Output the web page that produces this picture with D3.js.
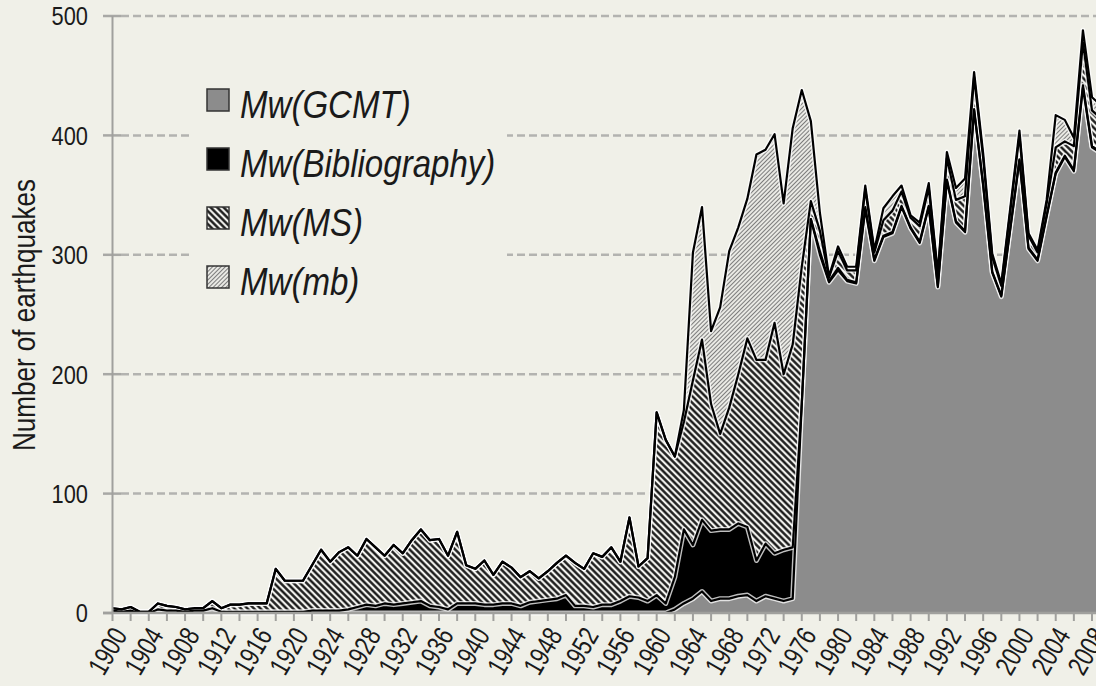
<!DOCTYPE html>
<html>
<head>
<meta charset="utf-8">
<script src="https://cdn.jsdelivr.net/npm/d3@7"></script>
<style>
body { margin: 0; background: #f0f0e8; }
svg { display: block; }
text { font-family: "Liberation Sans", Arial, sans-serif; fill: #1a1a1a; }
</style>
</head>
<body>
<script>

// yearly counts, 1900-2009, one value per year
var years = d3.range(1900, 2010);

var gcmt = [
	0,0,0,0,0,0,0,0,0,0,
	0,0,0,0,0,0,0,0,0,0,
	0,0,0,0,0,0,0,0,0,0,
	0,0,0,0,0,0,0,0,0,0,
	0,0,0,0,0,0,0,0,0,0,
	0,0,0,0,0,0,0,0,0,0,
	0,0,3,8,12,18,10,12,12,14,
	15,10,14,12,10,12,175,330,300,277,
	287,278,276,338,295,315,318,340,322,310,
	340,273,362,327,319,421,358,285,265,322,
	379,305,295,332,368,382,370,440,390,385];

var bib = [
	2,1,2,0,0,3,2,2,1,2,
	2,4,1,1,1,1,1,1,1,1,
	1,1,2,2,2,2,3,5,7,6,
	8,7,8,9,10,6,5,3,8,8,
	8,7,7,8,8,6,9,10,11,12,
	15,6,6,5,7,7,10,14,13,10,
	15,8,27,62,45,60,59,58,58,61,
	57,34,44,38,43,43,0,0,3,1,
	2,1,1,2,1,1,1,1,1,1,
	1,1,1,1,1,1,1,1,1,1,
	1,1,1,1,1,1,1,2,1,1];

var ms = [
	2,2,3,1,1,5,4,3,2,2,
	2,6,3,6,6,7,7,7,36,26,
	26,26,38,51,41,49,52,43,55,49,
	40,50,42,52,60,55,57,45,60,32,
	29,37,25,35,30,24,26,19,24,30,
	33,36,31,45,40,48,33,66,26,36,
	153,137,101,90,138,151,106,80,102,125,
	158,168,154,193,147,170,115,15,17,3,
	14,8,10,15,6,13,18,12,8,13,
	15,9,18,18,29,27,22,12,8,14,
	20,10,6,10,21,12,20,36,30,28];

var mb = [
	0,0,0,0,0,0,0,0,0,0,
	0,0,0,0,0,0,0,0,0,0,
	0,0,0,0,0,0,0,0,0,0,
	0,0,0,0,0,0,0,0,0,0,
	0,0,0,0,0,0,0,0,0,0,
	0,0,0,0,0,0,0,0,0,0,
	0,0,0,10,107,111,61,106,131,123,
	117,172,176,158,143,181,148,67,15,1,
	4,3,3,3,2,10,12,5,2,3,
	4,2,5,10,15,4,4,3,2,3,
	4,2,2,3,27,18,7,10,11,11];

var keys = ["gcmt", "bib", "ms", "mb"];
var legendLabels = ["Mw(GCMT)", "Mw(Bibliography)", "Mw(MS)", "Mw(mb)"];
var yTicks = [0, 100, 200, 300, 400, 500];
var xLabelYears = d3.range(1900, 2009, 4);
var xTickYears = d3.range(1900, 2010, 2);

var width = 1096,
	height = 686,
	bg = "#f0f0e8",
	narrow = 0.84; // no condensed font installed, squeeze the glyphs instead

var rows = years.map(function(yr, i){
	return {year: yr, gcmt: gcmt[i], bib: bib[i], ms: ms[i], mb: mb[i]};
});

var x = d3.scaleLinear().domain([1900, 2008]).range([112.5, 1092]),
	y = d3.scaleLinear().domain([0, 500]).range([613, 16]);

var svg = d3.select("body").append("svg")
		.attr("width", width)
		.attr("height", height);

svg.append("rect")
		.attr("width", width)
		.attr("height", height)
		.attr("fill", bg);

var defs = svg.append("defs");

// thick "\\\" hatch for MS
var pMS = defs.append("pattern")
		.attr("id", "hatchMS")
		.attr("patternUnits", "userSpaceOnUse")
		.attr("width", 4.6)
		.attr("height", 4.6)
		.attr("patternTransform", "rotate(-45)");
pMS.append("rect").attr("width", 4.6).attr("height", 4.6).attr("fill", "#f2f2ee");
pMS.append("line")
		.attr("x1", 2.3).attr("y1", 0).attr("x2", 2.3).attr("y2", 4.6)
		.attr("stroke", "#111").attr("stroke-width", 2.3);

// fine "///" hatch for mb
var pMB = defs.append("pattern")
		.attr("id", "hatchMB")
		.attr("patternUnits", "userSpaceOnUse")
		.attr("width", 3)
		.attr("height", 3)
		.attr("patternTransform", "rotate(45)");
pMB.append("rect").attr("width", 3).attr("height", 3).attr("fill", "#e9e9e4");
pMB.append("line")
		.attr("x1", 1.5).attr("y1", 0).attr("x2", 1.5).attr("y2", 3)
		.attr("stroke", "#7c7c7c").attr("stroke-width", 1);

var fills = {gcmt: "#8c8c8c", bib: "#000", ms: "url(#hatchMS)", mb: "url(#hatchMB)"};

// grid
svg.selectAll(".grid")
		.data(yTicks.slice(1))
	.enter().append("line")
		.attr("x1", 121)
		.attr("x2", width)
		.attr("y1", function(d){ return y(d); })
		.attr("y2", function(d){ return y(d); })
		.attr("stroke", "#b3b3b0")
		.attr("stroke-width", 2.5)
		.attr("stroke-dasharray", "8,4");

svg.selectAll(".ytick")
		.data(yTicks)
	.enter().append("line")
		.attr("x1", 103)
		.attr("x2", 121)
		.attr("y1", function(d){ return y(d); })
		.attr("y2", function(d){ return y(d); })
		.attr("stroke", "#a8a8a5")
		.attr("stroke-width", 2.5);

// legend box hides the grid behind it
svg.append("rect")
		.attr("x", 190)
		.attr("y", 70)
		.attr("width", 317)
		.attr("height", 240)
		.attr("fill", bg);

var stacked = d3.stack().keys(keys)(rows);

var area = d3.area()
		.x(function(d){ return x(d.data.year); })
		.y0(function(d){ return y(d[0]); })
		.y1(function(d){ return y(d[1]); });

var topLine = d3.line()
		.x(function(d){ return x(d.data.year); })
		.y(function(d){ return y(d[1]); });

svg.selectAll(".layer")
		.data(stacked)
	.enter().append("path")
		.attr("d", area)
		.attr("fill", function(d){ return fills[d.key]; });

svg.selectAll(".halo")
		.data(stacked)
	.enter().append("path")
		.attr("d", topLine)
		.attr("fill", "none")
		.attr("stroke", "#fff")
		.attr("stroke-opacity", 0.75)
		.attr("stroke-width", 5)
		.attr("stroke-linejoin", "round");

svg.selectAll(".edge")
		.data(stacked)
	.enter().append("path")
		.attr("d", topLine)
		.attr("fill", "none")
		.attr("stroke", "#000")
		.attr("stroke-width", 2.2)
		.attr("stroke-linejoin", "round");

// axes
svg.append("line")
		.attr("x1", x(1900)).attr("x2", x(1900))
		.attr("y1", y(500)).attr("y2", y(0))
		.attr("stroke", "#a0a09d").attr("stroke-width", 2);

svg.append("line")
		.attr("x1", 103).attr("x2", width)
		.attr("y1", y(0)).attr("y2", y(0))
		.attr("stroke", "#a0a09d").attr("stroke-width", 2.5);

svg.selectAll(".xtick")
		.data(xTickYears)
	.enter().append("line")
		.attr("x1", function(d){ return x(d); })
		.attr("x2", function(d){ return x(d); })
		.attr("y1", y(0))
		.attr("y2", y(0) + 8)
		.attr("stroke", "#a0a09d")
		.attr("stroke-width", 2);

svg.selectAll(".xlab")
		.data(xLabelYears)
	.enter().append("text")
		.attr("transform", function(d){
			return "translate(" + (x(d) + 7) + ",630) rotate(-60) scale(0.78,1)";
		})
		.attr("text-anchor", "end")
		.attr("dy", "0.35em")
		.style("font-size", "28px")
		.text(function(d){ return d; });

svg.selectAll(".ylab")
		.data(yTicks)
	.enter().append("text")
		.attr("transform", function(d){ return "translate(88," + y(d) + ") scale(" + narrow + ",1)"; })
		.attr("dy", "0.36em")
		.attr("text-anchor", "end")
		.style("font-size", "26px")
		.text(function(d){ return d; });

svg.append("text")
		.attr("transform", "translate(35,315) rotate(-90) scale(" + narrow + ",1)")
		.attr("text-anchor", "middle")
		.style("font-size", "31px")
		.text("Number of earthquakes");

// legend
var leg = svg.selectAll(".leg")
		.data(keys)
	.enter().append("g")
		.attr("transform", function(d, i){ return "translate(207," + (89 + i * 59) + ")"; });

leg.append("rect")
		.attr("width", 22)
		.attr("height", 22)
		.attr("fill", function(d){ return fills[d]; })
		.attr("stroke", "#333")
		.attr("stroke-width", 1.5);

leg.append("text")
		.attr("transform", "translate(33,29) scale(0.87,1)")
		.style("font-size", "38px")
		.style("font-style", "italic")
		.text(function(d, i){ return legendLabels[i]; });

</script>
</body>
</html>
